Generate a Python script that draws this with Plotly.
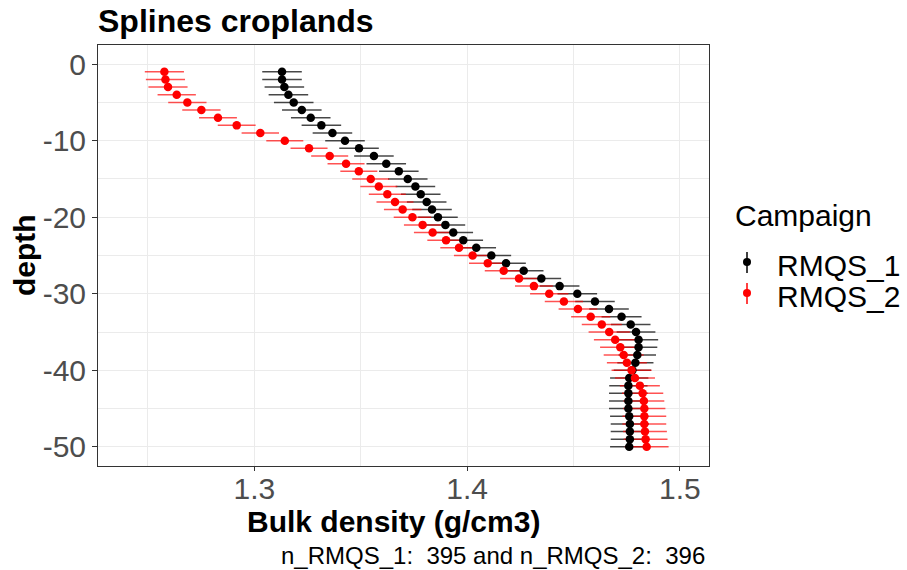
import plotly.graph_objects as go

# Depth of each spline layer (cm, negative downwards)
depth = [-d for d in range(1, 51)]

campaigns = ["RMQS_1", "RMQS_2"]

# Mean bulk density (g/cm3) per layer, campaign RMQS_1
bd_rmqs1 = [
    1.3130, 1.3130, 1.3141, 1.3160, 1.3185, 1.3223, 1.3265, 1.3315, 1.3367, 1.3426,
    1.3492, 1.3562, 1.3620, 1.3679, 1.3721, 1.3757, 1.3782, 1.3810, 1.3835, 1.3863,
    1.3898, 1.3935, 1.3982, 1.4043, 1.4114, 1.4183, 1.4266, 1.4349, 1.4435, 1.4518,
    1.4601, 1.4667, 1.4726, 1.4769, 1.4794, 1.4806, 1.4806, 1.4800, 1.4791, 1.4777,
    1.4762, 1.4758, 1.4758, 1.4758, 1.4758, 1.4762, 1.4765, 1.4765, 1.4765, 1.4762,
]
# Half-width of the interval, RMQS_1
err_rmqs1 = [
    0.0093, 0.0093, 0.0093, 0.0093, 0.0093, 0.0093, 0.0093, 0.0093, 0.0093, 0.0093,
    0.0093, 0.0093, 0.0093, 0.0093, 0.0093, 0.0093, 0.0093, 0.0093, 0.0093, 0.0093,
    0.0093, 0.0093, 0.0093, 0.0093, 0.0093, 0.0093, 0.0093, 0.0093, 0.0093, 0.0093,
    0.0093, 0.0093, 0.0094, 0.0093, 0.0091, 0.0092, 0.0088, 0.0088, 0.0085, 0.0088,
    0.0090, 0.0090, 0.0091, 0.0091, 0.0091, 0.0090, 0.0090, 0.0090, 0.0090, 0.0090,
]

# Mean bulk density (g/cm3) per layer, campaign RMQS_2
bd_rmqs2 = [
    1.2577, 1.2582, 1.2594, 1.2635, 1.2685, 1.2751, 1.2829, 1.2917, 1.3028, 1.3143,
    1.3257, 1.3354, 1.3431, 1.3491, 1.3547, 1.3585, 1.3625, 1.3661, 1.3697, 1.3743,
    1.3791, 1.3838, 1.3901, 1.3962, 1.4026, 1.4097, 1.4172, 1.4244, 1.4314, 1.4386,
    1.4455, 1.4521, 1.4581, 1.4633, 1.4668, 1.4696, 1.4720, 1.4736, 1.4751, 1.4773,
    1.4789, 1.4812, 1.4825, 1.4831, 1.4833, 1.4833, 1.4833, 1.4836, 1.4839, 1.4844,
]
# Half-width of the interval, RMQS_2
err_rmqs2 = [
    0.0092, 0.0092, 0.0092, 0.0090, 0.0090, 0.0090, 0.0089, 0.0089, 0.0088, 0.0087,
    0.0087, 0.0087, 0.0087, 0.0087, 0.0087, 0.0087, 0.0087, 0.0087, 0.0088, 0.0088,
    0.0088, 0.0088, 0.0088, 0.0088, 0.0088, 0.0088, 0.0089, 0.0089, 0.0089, 0.0090,
    0.0090, 0.0091, 0.0092, 0.0094, 0.0097, 0.0100, 0.0095, 0.0094, 0.0094, 0.0094,
    0.0094, 0.0094, 0.0097, 0.0096, 0.0099, 0.0103, 0.0103, 0.0103, 0.0103, 0.0103,
]

n_rmqs1 = 395
n_rmqs2 = 396

# Axis ticks
x_ticks = [1.3, 1.4, 1.5]
x_tick_labels = ["1.3", "1.4", "1.5"]
y_ticks = [0, -10, -20, -30, -40, -50]
y_tick_labels = ["0", "-10", "-20", "-30", "-40", "-50"]

series = [
    (campaigns[0], bd_rmqs1, err_rmqs1, "#000000", "rgba(0,0,0,0.72)"),
    (campaigns[1], bd_rmqs2, err_rmqs2, "#FF0000", "rgba(255,0,0,0.68)"),
]

FONT = "Arial, 'Liberation Sans', sans-serif"
W, H = 907, 570
L, R, T, B = 98, 198, 45, 104

fig = go.Figure()

# Intervals first, so every point sits above every bar
for name, bd, err, col, ecol in series:
    fig.add_trace(go.Scatter(
        x=bd, y=depth, mode="markers", name=name, showlegend=False,
        marker=dict(size=8.5, color=col, opacity=0),
        error_x=dict(type="data", array=err, visible=True, color=ecol,
                     thickness=1.5, width=0),
        hoverinfo="skip",
    ))
for name, bd, err, col, ecol in series:
    fig.add_trace(go.Scatter(
        x=bd, y=depth, mode="markers", name=name, showlegend=False,
        marker=dict(size=8.5, color=col),
    ))


def px_x(px):
    return (px - L) / (W - L - R)


def px_y(py):
    return (H - B - py) / (H - T - B)


annotations = [
    dict(text="<b>Splines croplands</b>", x=px_x(96), y=px_y(21),
         xref="paper", yref="paper", showarrow=False, xanchor="left",
         yanchor="middle", font=dict(size=32, color="#000000", family=FONT)),
    dict(text="<b>depth</b>", x=px_x(24), y=px_y(255), xref="paper", yref="paper",
         textangle=-90, showarrow=False, xanchor="center", yanchor="middle",
         font=dict(size=30, color="#000000", family=FONT)),
    dict(text="<b>Bulk density (g/cm3)</b>", x=px_x(393), y=px_y(521),
         xref="paper", yref="paper", showarrow=False, xanchor="center",
         yanchor="middle", font=dict(size=30, color="#000000", family=FONT)),
    dict(text=f"n_RMQS_1:\u00a0 {n_rmqs1} and n_RMQS_2:\u00a0 {n_rmqs2}",
         x=px_x(707), y=px_y(555), xref="paper", yref="paper", showarrow=False,
         xanchor="right", yanchor="middle",
         font=dict(size=24, color="#000000", family=FONT)),
    dict(text="Campaign", x=px_x(733), y=px_y(215), xref="paper", yref="paper",
         showarrow=False, xanchor="left", yanchor="middle",
         font=dict(size=30, color="#000000", family=FONT)),
]

# Legend keys: point with a vertical interval stroke
shapes = []
key_rows = [(campaigns[0], "#000000", 262), (campaigns[1], "#FF0000", 293)]
for name, col, cy in key_rows:
    annotations.append(dict(
        text=name, x=px_x(775), y=px_y(cy + 3), xref="paper", yref="paper",
        showarrow=False, xanchor="left", yanchor="middle",
        font=dict(size=30, color="#000000", family=FONT)))
    shapes.append(dict(type="line", xref="paper", yref="paper",
                       x0=px_x(747), x1=px_x(747), y0=px_y(cy - 10), y1=px_y(cy + 11),
                       line=dict(color=col, width=1.5)))
    shapes.append(dict(type="circle", xref="paper", yref="paper",
                       x0=px_x(743), x1=px_x(751), y0=px_y(cy - 4), y1=px_y(cy + 4),
                       fillcolor=col, line=dict(color=col, width=0)))

grid = "#EBEBEB"
fig.update_layout(
    width=W, height=H, autosize=False,
    margin=dict(l=L, r=R, t=T, b=B, pad=0),
    paper_bgcolor="#FFFFFF", plot_bgcolor="#FFFFFF",
    showlegend=False,
    xaxis=dict(
        range=[1.2265, 1.5137], tickvals=x_ticks, ticktext=x_tick_labels,
        showgrid=True, gridcolor=grid, gridwidth=1, zeroline=False,
        minor=dict(tickvals=[1.25, 1.35, 1.45], showgrid=True, gridcolor=grid,
                   gridwidth=1, ticks=""),
        ticks="outside", ticklen=4, tickcolor="#333333", tickwidth=1,
        ticklabelstandoff=-8,
        showline=True, linecolor="#333333", linewidth=1, mirror=True,
        tickfont=dict(size=30, color="#4D4D4D", family=FONT),
    ),
    yaxis=dict(
        range=[-52.5, 2.5], tickvals=y_ticks, ticktext=y_tick_labels,
        showgrid=True, gridcolor=grid, gridwidth=1, zeroline=False,
        minor=dict(tickvals=[-5, -15, -25, -35, -45], showgrid=True,
                   gridcolor=grid, gridwidth=1, ticks=""),
        ticks="outside", ticklen=5, tickcolor="#333333", tickwidth=1,
        showline=True, linecolor="#333333", linewidth=1, mirror=True,
        tickfont=dict(size=30, color="#4D4D4D", family=FONT),
    ),
    annotations=annotations,
    shapes=shapes,
)

fig.write_html("out.html")
